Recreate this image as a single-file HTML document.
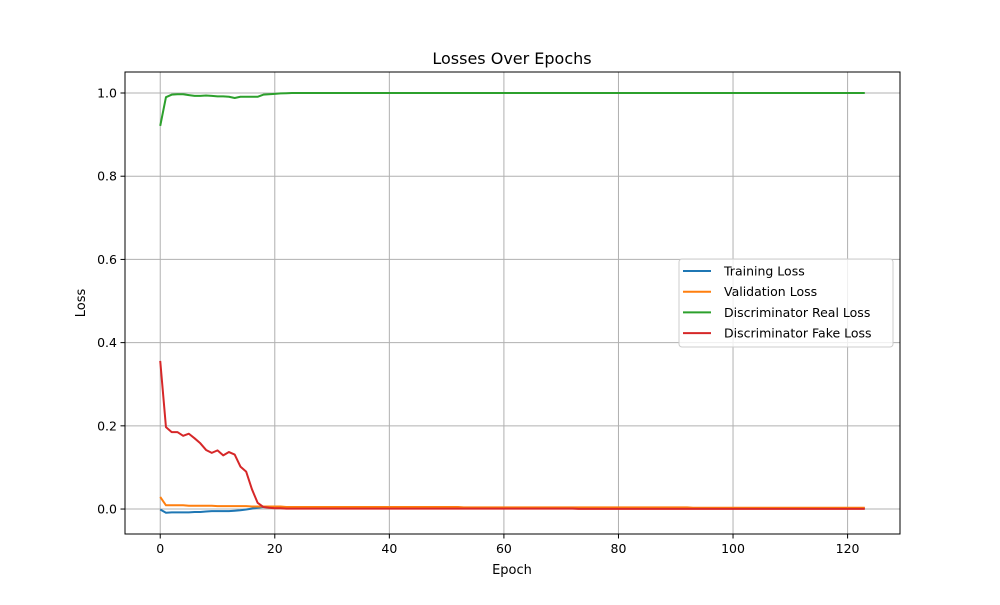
<!DOCTYPE html>
<html><head><meta charset="utf-8"><style>
body{margin:0;background:#fff;font-family:"Liberation Sans","DejaVu Sans",sans-serif}
svg text{font-family:"DejaVu Sans","Liberation Sans",sans-serif}
</style></head><body>
<svg id="chart" width="1000" height="600" xmlns="http://www.w3.org/2000/svg">
<rect width="1000" height="600" fill="#fff"/>
<g id="grid"></g><g id="series"></g><g id="axes"></g>
<text x="512" y="64" text-anchor="middle" font-size="16">Losses Over Epochs</text>
<text x="512" y="574" text-anchor="middle" font-size="13">Epoch</text>
<text x="85" y="303" text-anchor="middle" font-size="13" transform="rotate(-90 85 303)">Loss</text>
<g id="legend"></g>
</svg>
<script>
const seriesNames=["Training Loss","Validation Loss","Discriminator Real Loss","Discriminator Fake Loss"];
const seriesColors=["#1f77b4","#ff7f0e","#2ca02c","#d62728"];
const xTicks=[0,20,40,60,80,100,120];
const yTicks=[0.0,0.2,0.4,0.6,0.8,1.0];
const trainLoss=[-0.001,-0.009,-0.008,-0.008,-0.008,-0.008,-0.007,-0.007,-0.006,-0.005,-0.005,-0.005,-0.005,-0.004,-0.003,-0.001,0.001,0.003,0.005,0.004,0.004,0.004,0.004,
0.003,0.003,0.003,0.003,0.003,0.003,0.003,0.003,0.003,0.003,
0.003,0.003,0.003,0.003,0.003,0.003,0.003,0.003,0.003,0.003,
0.003,0.003,0.003,0.003,0.003,0.003,0.003,0.003,0.003,0.003,
0.002,0.002,0.002,0.002,0.002,0.002,0.002,0.002,0.002,0.002,
0.002,0.002,0.002,0.002,0.002,0.002,0.002,0.002,0.002,0.002,
0.002,0.002,0.002,0.002,0.002,0.002,0.002,0.002,0.002,0.002,
0.002,0.002,0.002,0.002,0.002,0.002,0.002,0.002,0.002,0.002,
0.002,0.002,0.002,0.002,0.002,0.002,0.002,0.002,0.002,0.002,
0.002,0.002,0.002,0.002,0.002,0.002,0.002,0.002,0.002,0.002,
0.002,0.002,0.002,0.002,0.002,0.002,0.002,0.002,0.002,0.002,0.002];
const valLoss=[0.029,0.009,0.009,0.009,0.009,0.008,0.008,0.008,0.008,0.008,0.007,0.007,0.007,0.007,0.007,0.007,0.006,0.006,0.006,0.006,0.006,0.006,0.005,
0.005,0.005,0.005,0.005,0.005,0.005,0.005,0.005,0.005,0.005,
0.005,0.005,0.005,0.005,0.005,0.005,0.005,0.005,0.005,0.005,
0.005,0.005,0.005,0.005,0.005,0.005,0.005,0.005,0.005,0.005,
0.004,0.004,0.004,0.004,0.004,0.004,0.004,0.004,0.004,0.004,
0.004,0.004,0.004,0.004,0.004,0.004,0.004,0.004,0.004,0.004,
0.004,0.004,0.004,0.004,0.004,0.004,0.004,0.004,0.004,0.004,
0.004,0.004,0.004,0.004,0.004,0.004,0.004,0.004,0.004,0.004,
0.003,0.003,0.003,0.003,0.003,0.003,0.003,0.003,0.003,0.003,
0.003,0.003,0.003,0.003,0.003,0.003,0.003,0.003,0.003,0.003,
0.003,0.003,0.003,0.003,0.003,0.003,0.003,0.003,0.003,0.003,0.003];
const realLoss=[0.921,0.990,0.996,0.997,0.997,0.995,0.993,0.993,0.994,0.993,0.992,0.992,0.991,0.988,0.991,0.991,0.991,0.991,0.996,0.997,0.998,0.999,0.9995,
1,1,1,1,1,1,1,1,1,1,
1,1,1,1,1,1,1,1,1,1,
1,1,1,1,1,1,1,1,1,1,
1,1,1,1,1,1,1,1,1,1,
1,1,1,1,1,1,1,1,1,1,
1,1,1,1,1,1,1,1,1,1,
1,1,1,1,1,1,1,1,1,1,
1,1,1,1,1,1,1,1,1,1,
1,1,1,1,1,1,1,1,1,1,
1,1,1,1,1,1,1,1,1,1,1];
const fakeLoss=[0.356,0.197,0.185,0.185,0.176,0.181,0.170,0.158,0.142,0.135,0.141,0.129,0.137,0.131,0.102,0.090,0.048,0.015,0.005,0.003,0.002,0.002,0.001,
0.001,0.001,0.001,0.001,0.001,0.001,0.001,0.001,0.001,0.001,
0.001,0.001,0.001,0.001,0.001,0.001,0.001,0.001,0.001,0.001,
0.001,0.001,0.001,0.001,0.001,0.001,0.001,0.001,0.001,0.001,
0.001,0.001,0.001,0.001,0.001,0.001,0.001,0.001,0.001,0.001,
0.001,0.001,0.001,0.001,0.001,0.001,0.001,0.001,0.001,0.001,
0.0005,0.0005,0.0005,0.0005,0.0005,0.0005,0.0005,0.0005,0.0005,0.0005,
0.0005,0.0005,0.0005,0.0005,0.0005,0.0005,0.0005,0.0005,0.0005,0.0005,
0.0005,0.0005,0.0005,0.0005,0.0005,0.0005,0.0005,0.0005,0.0005,0.0005,
0.0005,0.0005,0.0005,0.0005,0.0005,0.0005,0.0005,0.0005,0.0005,0.0005,
0.0005,0.0005,0.0005,0.0005,0.0005,0.0005,0.0005,0.0005,0.0005,0.0005,0.0005];
const allSeries=[trainLoss,valLoss,realLoss,fakeLoss];
const seriesKeys=["training-loss","validation-loss","discriminator-real-loss","discriminator-fake-loss"];

const NS="http://www.w3.org/2000/svg";
const L=125,R=900,T=72,B=534;
const xMin=-6.15,xMax=129.15,yMin=-0.06,yMax=1.0505;
const xs=v=>L+(v-xMin)/(xMax-xMin)*(R-L);
const ys=v=>B-(v-yMin)/(yMax-yMin)*(B-T);
function mk(tag,attrs,parent){const e=document.createElementNS(NS,tag);for(const k in attrs)e.setAttribute(k,attrs[k]);parent.appendChild(e);return e;}
const grid=document.getElementById('grid'),axes=document.getElementById('axes'),ser=document.getElementById('series'),leg=document.getElementById('legend');
xTicks.forEach(t=>{const x=xs(t);
 const g=mk('line',{x1:x,x2:x,y1:T,y2:B,stroke:'#b0b0b0','stroke-width':1},grid);
 
 
 mk('line',{x1:x,x2:x,y1:B,y2:B+4.5,stroke:'#000','stroke-width':1},axes);
 const tx=mk('text',{x:x,y:B+19,'text-anchor':'middle','font-size':12.5},axes);tx.textContent=t;
 
 
});
yTicks.forEach(t=>{const y=ys(t);
 const g=mk('line',{x1:L,x2:R,y1:y,y2:y,stroke:'#b0b0b0','stroke-width':1},grid);
 
 
 mk('line',{x1:L-4.5,x2:L,y1:y,y2:y,stroke:'#000','stroke-width':1},axes);
 const tx=mk('text',{x:L-8,y:y+4.5,'text-anchor':'end','font-size':12.5},axes);tx.textContent=t.toFixed(1);
 
 
});
const frame=mk('rect',{x:L,y:T,width:R-L,height:B-T,fill:'none',stroke:'#000','stroke-width':1},axes);


allSeries.forEach((d,i)=>{
 const p=mk('polyline',{points:d.map((v,j)=>xs(j)+','+ys(v)).join(' '),fill:'none',stroke:seriesColors[i],'stroke-width':2,'stroke-linejoin':'round'},ser);
 
 
});
const lb=mk('rect',{x:679,y:259,width:214,height:88,rx:3,fill:'#fff','fill-opacity':0.8,stroke:'#ccc','stroke-width':1},leg);


seriesNames.forEach((n,i)=>{const y=271+i*20.7;
 const ln=mk('line',{x1:683,x2:711,y1:y,y2:y,stroke:seriesColors[i],'stroke-width':2},leg);
 
 
 const tx=mk('text',{x:724,y:y+4.5,'font-size':12.5},leg);tx.textContent=n;
 
 
});
</script>
</body></html>
